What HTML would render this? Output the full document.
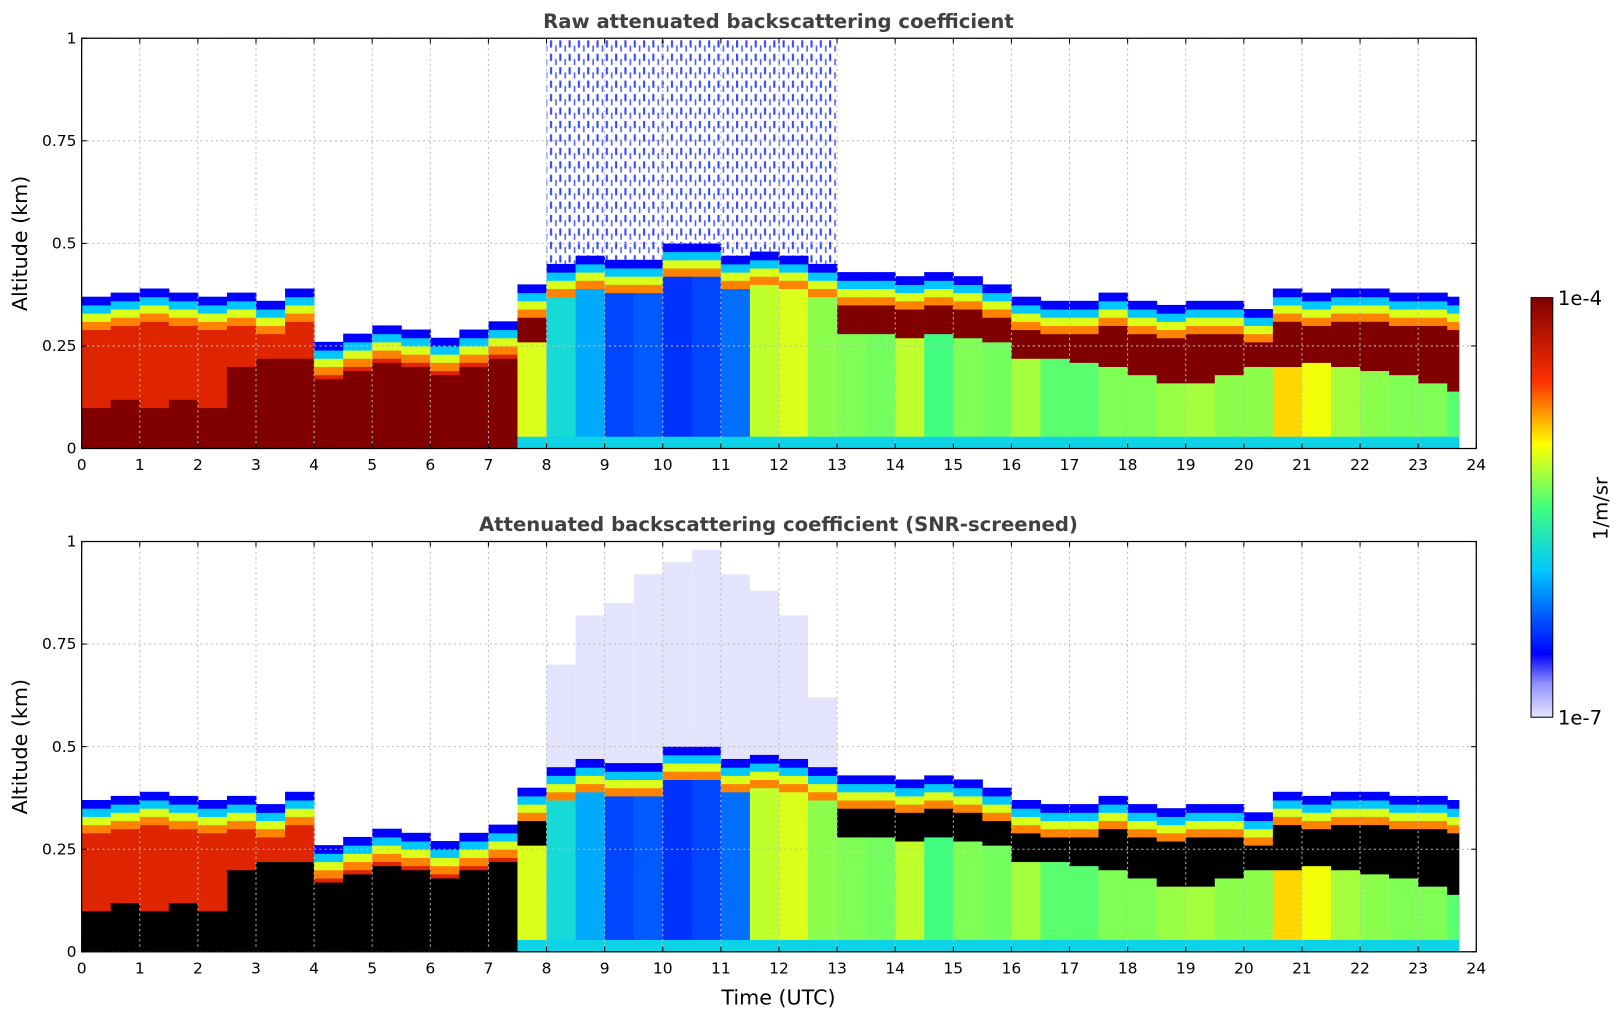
<!DOCTYPE html>
<html><head><meta charset="utf-8">
<style>
html,body{margin:0;padding:0;background:#fff;overflow:hidden;width:1621px;height:1020px;font-family:"Liberation Sans","DejaVu Sans",sans-serif;}
svg{display:block;}
svg text{font-family:"DejaVu Sans","Liberation Sans",sans-serif;}
</style></head>
<body>
<svg id="chart" width="1621" height="1020" viewBox="0 0 1568 987" preserveAspectRatio="none" xmlns="http://www.w3.org/2000/svg">
<defs>
<linearGradient id="cbar" x1="0" y1="1" x2="0" y2="0">
<stop offset="0" stop-color="#e6e6ff"/><stop offset="0.08" stop-color="#9090ff"/>
<stop offset="0.15" stop-color="#0000ff"/><stop offset="0.35" stop-color="#00c8ff"/>
<stop offset="0.5" stop-color="#40ff80"/><stop offset="0.65" stop-color="#ffff00"/>
<stop offset="0.8" stop-color="#ff3000"/><stop offset="1" stop-color="#800000"/>
</linearGradient>
<pattern id="noise" width="9" height="13" patternUnits="userSpaceOnUse">
<rect x="1" y="0" width="2" height="7" fill="#0018ff"/><rect x="6" y="5" width="1.5" height="6" fill="#2030ff"/>
</pattern>
</defs>
<g id="p1"></g>
<g id="p2"></g>
<g>
<rect x="1481" y="288" width="21" height="406" fill="url(#cbar)" stroke="#000" stroke-width="1"/>
<text x="1507" y="295" font-size="19">1e-4</text>
<text x="1507" y="701" font-size="19">1e-7</text>
<text transform="translate(1555,492) rotate(-90)" text-anchor="middle" font-size="19">1/m/sr</text>
</g>
<text x="753" y="972" text-anchor="middle" font-size="20">Time (UTC)</text>
</svg>
<script>
const hours=[0,0.5,1,1.5,2,2.5,3,3.5,4,4.5,5,5.5,6,6.5,7,7.5,8,8.5,9,9.5,10,10.5,11,11.5,12,12.5,13,13.5,14,14.5,15,15.5,16,16.5,17,17.5,18,18.5,19,19.5,20,20.5,21,21.5,22,22.5,23,23.5];
const topAlt=[0.37,0.38,0.39,0.38,0.37,0.38,0.36,0.39,0.26,0.28,0.30,0.29,0.27,0.29,0.31,0.40,0.45,0.47,0.46,0.46,0.50,0.50,0.47,0.48,0.47,0.45,0.43,0.43,0.42,0.43,0.42,0.40,0.37,0.36,0.36,0.38,0.36,0.35,0.36,0.36,0.34,0.39,0.38,0.39,0.39,0.38,0.38,0.37];
const coreTop=[0.10,0.12,0.10,0.12,0.10,0.20,0.22,0.22,0.17,0.19,0.21,0.20,0.18,0.20,0.22,0.36,0.43,0.45,0.44,0.44,0.47,0.47,0.45,0.46,0.45,0.43,0.39,0.39,0.38,0.39,0.37,0.35,0.33,0.32,0.32,0.33,0.32,0.31,0.32,0.32,0.30,0.35,0.34,0.35,0.35,0.34,0.34,0.33];
const coreBot=[0,0,0,0,0,0,0,0,0,0,0,0,0,0,0,0.26,0.40,0.42,0.41,0.41,0.44,0.44,0.42,0.40,0.40,0.38,0.28,0.28,0.27,0.28,0.27,0.26,0.22,0.22,0.21,0.20,0.18,0.16,0.16,0.18,0.20,0.20,0.21,0.20,0.19,0.18,0.16,0.14];
const lowerVal=[0.85,0.85,0.85,0.85,0.85,0.85,0.85,0.85,0.85,0.85,0.85,0.85,0.85,0.85,0.85,0.62,0.40,0.32,0.22,0.24,0.20,0.22,0.26,0.60,0.62,0.56,0.55,0.54,0.60,0.50,0.55,0.54,0.58,0.52,0.52,0.55,0.55,0.57,0.58,0.56,0.56,0.68,0.64,0.58,0.56,0.55,0.55,0.52];
const hazeTop=[0,0,0,0,0,0,0,0,0,0,0,0,0,0,0,0,0.70,0.82,0.85,0.92,0.95,0.98,0.92,0.88,0.82,0.62,0,0,0,0,0,0,0,0,0,0,0,0,0,0,0,0,0,0,0,0,0,0];
const xTicks=[0,1,2,3,4,5,6,7,8,9,10,11,12,13,14,15,16,17,18,19,20,21,22,23,24];
const yTicks=[0,0.25,0.5,0.75,1];
const yTickLabels=["0","0.25","0.5","0.75","1"];
const NS='http://www.w3.org/2000/svg';
const X0=79,X1=1428;
const xs=t=>X0+(X1-X0)*t/24;
const stops=[[0,[230,230,255]],[0.15,[0,0,255]],[0.35,[0,200,255]],[0.5,[64,255,128]],[0.65,[255,255,0]],[0.8,[255,48,0]],[1,[128,0,0]]];
function cmap(v){for(let i=1;i<stops.length;i++){if(v<=stops[i][0]){const a=stops[i-1],b=stops[i],f=(v-a[0])/(b[0]-a[0]);return 'rgb('+a[1].map((c,k)=>Math.round(c+(b[1][k]-c)*f)).join(',')+')';}}return 'rgb(128,0,0)';}
function el(tag,attrs,parent){const e=document.createElementNS(NS,tag);for(const k in attrs)e.setAttribute(k,attrs[k]);parent.appendChild(e);return e;}
function valueAt(i,z){
  const t=topAlt[i];
  if(z>t)return null;
  if(hours[i]>=7.5&&z<0.03)return 0.38;
  if(z>t-0.02)return 0.15;
  if(z>t-0.04)return 0.35;
  if(z>t-0.06)return 0.62;
  if(z>t-0.08)return 0.74;
  if(z>coreTop[i])return 0.85;
  if(z>coreBot[i])return 1;
  return lowerVal[i];
}
function panel(gid,Y0,Y1,title,screened){
  const g=document.getElementById(gid);
  const ys=z=>Y0-(Y0-Y1)*z;
  const tt=el('text',{x:753,y:Y1-10,'text-anchor':'middle','font-size':19,'font-weight':'bold',fill:'#404040'},g);tt.textContent=title;
  
  
  const cells=el('g',{},g);
  
  
  const dz=0.01;
  for(let i=0;i<hours.length;i++){
    const xa=xs(hours[i]),xb=xs(Math.min(hours[i]+0.5,23.7));
    if(!screened&&hazeTop[i]>0){const r=el('rect',{x:xa,y:ys(1),width:xb-xa,height:ys(topAlt[i])-ys(1),fill:'url(#noise)',opacity:0.8},cells);}
    if(screened&&hazeTop[i]>0){const r=el('rect',{x:xa,y:ys(hazeTop[i]),width:xb-xa,height:ys(topAlt[i])-ys(hazeTop[i]),fill:'#e4e4ff'},cells);}
    let z=0;
    while(z<topAlt[i]-1e-9){
      const v=valueAt(i,z+dz/2);let z2=z+dz;
      while(z2<topAlt[i]-1e-9&&valueAt(i,z2+dz/2)===v)z2+=dz;
      const fill=(screened&&v>=0.97)?'#000':cmap(v);
      const r=el('rect',{x:xa,y:ys(z2),width:xb-xa+0.5,height:ys(z)-ys(z2)+0.5,fill:fill},cells);
      
      
      z=z2;
    }
  }
  const grid=el('g',{stroke:'#bbb','stroke-dasharray':'2,3','stroke-width':1},g);
  
  
  xTicks.forEach(t=>{el('line',{x1:xs(t),x2:xs(t),y1:Y0,y2:Y1},grid);});
  yTicks.forEach(v=>{el('line',{x1:X0,x2:X1,y1:ys(v),y2:ys(v)},grid);});
  const fr=el('rect',{x:X0,y:Y1,width:X1-X0,height:Y0-Y1,fill:'none',stroke:'#000','stroke-width':1.2},g);
  
  
  xTicks.forEach(t=>{
    el('line',{x1:xs(t),x2:xs(t),y1:Y0,y2:Y0-5,stroke:'#000'},g);
    el('line',{x1:xs(t),x2:xs(t),y1:Y1,y2:Y1+5,stroke:'#000'},g);
    const l=el('text',{x:xs(t),y:Y0+21,'text-anchor':'middle','font-size':15},g);l.textContent=t;
    
    
  });
  yTicks.forEach((v,k)=>{
    el('line',{x1:X0,x2:X0+5,y1:ys(v),y2:ys(v),stroke:'#000'},g);
    el('line',{x1:X1,x2:X1-5,y1:ys(v),y2:ys(v),stroke:'#000'},g);
    const l=el('text',{x:X0-5,y:ys(v)+5,'text-anchor':'end','font-size':15},g);l.textContent=yTickLabels[k];
    
    
  });
  const yl=el('text',{transform:'translate(26,'+((Y0+Y1)/2)+') rotate(-90)','text-anchor':'middle','font-size':20},g);yl.textContent='Altitude (km)';
  
  
}
panel('p1',434,37,'Raw attenuated backscattering coefficient',false);
panel('p2',921,524,'Attenuated backscattering coefficient (SNR-screened)',true);
</script>
</body></html>
